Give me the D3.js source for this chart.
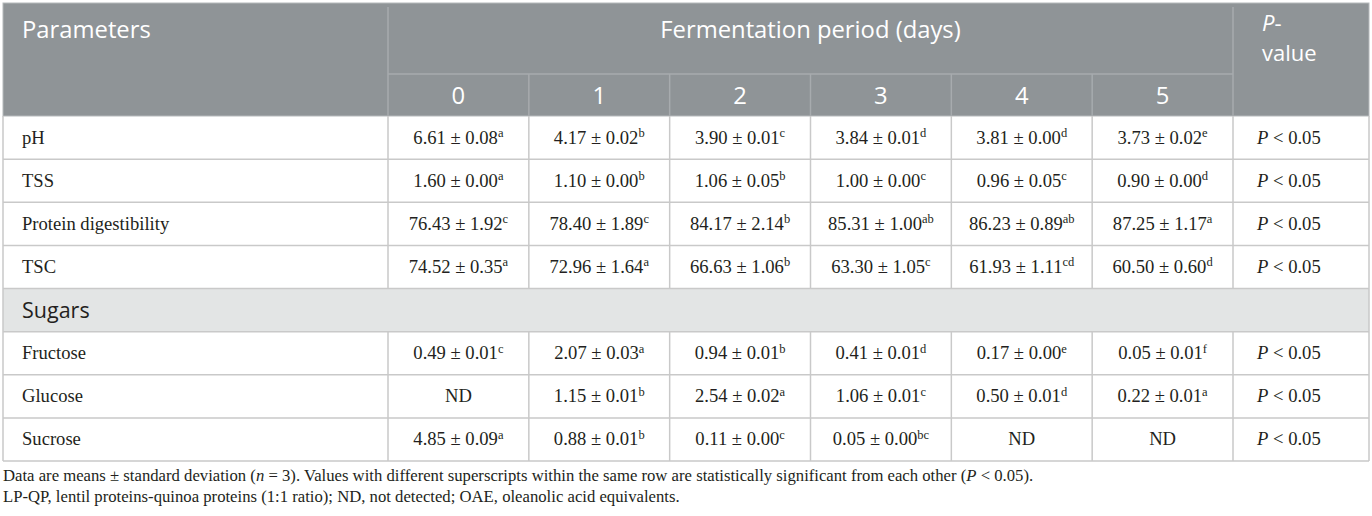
<!DOCTYPE html>
<html>
<head>
<meta charset="utf-8">
<script src="https://cdn.jsdelivr.net/npm/d3@7"></script>
<style>
  body { margin: 0; background: #fff; }
  svg { display: block; }
  .hdr { font-family: "Open Sans", sans-serif; fill: #fff; }
  .cell { font-family: "Liberation Serif", serif; fill: #231f20; font-size: 18.6px; }
  .note { font-family: "Liberation Serif", serif; fill: #231f20; font-size: 16.7px; }
</style>
</head>
<body>
<svg id="viz"></svg>
<script>
// ----------------------------------------------------------------------------------------------------------------
// DATA

var days = ["0", "1", "2", "3", "4", "5"];

var params = ["pH", "TSS", "Protein digestibility", "TSC"];
var sugars = ["Fructose", "Glucose", "Sucrose"];

// means, standard deviations and letters per row (null = ND)
var means = {
  "pH":                    [6.61, 4.17, 3.90, 3.84, 3.81, 3.73],
  "TSS":                   [1.60, 1.10, 1.06, 1.00, 0.96, 0.90],
  "Protein digestibility": [76.43, 78.40, 84.17, 85.31, 86.23, 87.25],
  "TSC":                   [74.52, 72.96, 66.63, 63.30, 61.93, 60.50],
  "Fructose":              [0.49, 2.07, 0.94, 0.41, 0.17, 0.05],
  "Glucose":               [null, 1.15, 2.54, 1.06, 0.50, 0.22],
  "Sucrose":               [4.85, 0.88, 0.11, 0.05, null, null]
};

var sds = {
  "pH":                    [0.08, 0.02, 0.01, 0.01, 0.00, 0.02],
  "TSS":                   [0.00, 0.00, 0.05, 0.00, 0.05, 0.00],
  "Protein digestibility": [1.92, 1.89, 2.14, 1.00, 0.89, 1.17],
  "TSC":                   [0.35, 1.64, 1.06, 1.05, 1.11, 0.60],
  "Fructose":              [0.01, 0.03, 0.01, 0.01, 0.00, 0.01],
  "Glucose":               [null, 0.01, 0.02, 0.01, 0.01, 0.01],
  "Sucrose":               [0.09, 0.01, 0.00, 0.00, null, null]
};

var letters = {
  "pH":                    ["a", "b", "c", "d", "d", "e"],
  "TSS":                   ["a", "b", "b", "c", "c", "d"],
  "Protein digestibility": ["c", "c", "b", "ab", "ab", "a"],
  "TSC":                   ["a", "a", "b", "c", "cd", "d"],
  "Fructose":              ["c", "a", "b", "d", "e", "f"],
  "Glucose":               [null, "b", "a", "c", "d", "a"],
  "Sucrose":               ["a", "b", "c", "bc", null, null]
};

var pValue = "0.05";

// ----------------------------------------------------------------------------------------------------------------
// INITIAL SETUP

var w = 1372;
var h = 516;
var viz = d3.select("#viz").attr("width", w).attr("height", h);

var tLeft = 3, tRight = 1369, tTop = 3;
var colLab = 388, colP = 1233;
var headMid = 74, headBottom = 116, tableBottom = 461;

var hdrFill = "#8f9497";
var hdrLine = "#a7abae";
var gridLine = "#c9c9c9";
var groupFill = "#e3e5e5";

var rowKeys = params.concat(["Sugars"], sugars);

var x = d3.scaleBand().domain(days).range([colLab, colP]);
var y = d3.scaleBand().domain(rowKeys).range([headBottom, tableBottom]);

// ----------------------------------------------------------------------------------------------------------------
// HEADER

viz.append("rect")
  .attr("x", tLeft).attr("y", tTop)
  .attr("width", tRight - tLeft).attr("height", headBottom - tTop)
  .attr("fill", hdrFill)
  .attr("stroke", "#b5b9bb").attr("stroke-width", 1);

// header lines
viz.append("line")
  .attr("x1", colLab).attr("x2", colP).attr("y1", headMid).attr("y2", headMid)
  .attr("stroke", hdrLine).attr("stroke-width", 1.5);

viz.selectAll("line.hv")
  .data([colLab, colP])
  .enter().append("line")
  .attr("class", "hv")
  .attr("x1", function(d) { return d; }).attr("x2", function(d) { return d; })
  .attr("y1", tTop + 4).attr("y2", headBottom)
  .attr("stroke", hdrLine).attr("stroke-width", 1.5);

viz.selectAll("line.hd")
  .data(days.slice(1))
  .enter().append("line")
  .attr("class", "hd")
  .attr("x1", function(d) { return x(d); }).attr("x2", function(d) { return x(d); })
  .attr("y1", headMid).attr("y2", headBottom)
  .attr("stroke", hdrLine).attr("stroke-width", 1.5);

viz.append("text").attr("class", "hdr")
  .attr("x", 22).attr("y", 38)
  .attr("font-size", 23.8)
  .text("Parameters");

viz.append("text").attr("class", "hdr")
  .attr("x", (colLab + colP) / 2).attr("y", 38)
  .attr("text-anchor", "middle")
  .attr("font-size", 23.8)
  .text("Fermentation period (days)");

// P-value header, wrapped on two lines
var pv1 = viz.append("text").attr("class", "hdr").attr("font-size", 22)
  .attr("x", 1262).attr("y", 31);
pv1.append("tspan").attr("font-style", "italic").text("P");
pv1.append("tspan").text("-");

viz.append("text").attr("class", "hdr").attr("font-size", 22)
  .attr("x", 1262).attr("y", 61)
  .text("value");

viz.selectAll("text.day")
  .data(days)
  .enter().append("text")
  .attr("class", "hdr day")
  .attr("x", function(d) { return x(d) + x.bandwidth() / 2; })
  .attr("y", 104)
  .attr("text-anchor", "middle")
  .attr("font-size", 23.8)
  .text(function(d) { return d; });

// ----------------------------------------------------------------------------------------------------------------
// BODY

// group band
viz.append("rect")
  .attr("x", tLeft).attr("y", y("Sugars"))
  .attr("width", tRight - tLeft).attr("height", y.bandwidth())
  .attr("fill", groupFill);

viz.append("text")
  .attr("x", 22).attr("y", y("Sugars") + y.bandwidth() / 2 + 8)
  .style("font-family", "'Open Sans', sans-serif")
  .attr("font-size", 21.5)
  .attr("fill", "#231f20")
  .text("Sugars");

// horizontal grid lines
viz.selectAll("line.hr")
  .data(rowKeys)
  .enter().append("line")
  .attr("class", "hr")
  .attr("x1", tLeft).attr("x2", tRight)
  .attr("y1", function(d) { return y(d) + y.bandwidth(); })
  .attr("y2", function(d) { return y(d) + y.bandwidth(); })
  .attr("stroke", gridLine).attr("stroke-width", 1.5);

// vertical grid lines (skip the group band)
var dataRows = params.concat(sugars);
var vCols = [colLab].concat(days.slice(1).map(function(d) { return x(d); }), [colP]);

dataRows.forEach(function(r) {
  viz.selectAll(null)
    .data(vCols)
    .enter().append("line")
    .attr("x1", function(d) { return d; }).attr("x2", function(d) { return d; })
    .attr("y1", y(r)).attr("y2", y(r) + y.bandwidth())
    .attr("stroke", gridLine).attr("stroke-width", 1.5);
});

// outer borders of body
viz.selectAll("line.ob")
  .data([tLeft, tRight])
  .enter().append("line")
  .attr("class", "ob")
  .attr("x1", function(d) { return d; }).attr("x2", function(d) { return d; })
  .attr("y1", headBottom).attr("y2", tableBottom)
  .attr("stroke", gridLine).attr("stroke-width", 1.5);

// row labels
viz.selectAll("text.lab")
  .data(dataRows)
  .enter().append("text")
  .attr("class", "cell lab")
  .attr("x", 22)
  .attr("y", function(d) { return y(d) + y.bandwidth() / 2 + 6; })
  .text(function(d) { return d; });

// value cells
dataRows.forEach(function(r) {
  var cells = viz.selectAll(null)
    .data(days)
    .enter().append("text")
    .attr("class", "cell")
    .attr("x", function(d) { return x(d) + x.bandwidth() / 2; })
    .attr("y", y(r) + y.bandwidth() / 2 + 6)
    .attr("text-anchor", "middle");

  cells.each(function(d, i) {
    var t = d3.select(this);
    var m = means[r][i];
    if (m === null) {
      t.text("ND");
      return;
    }
    t.append("tspan").text(m.toFixed(2) + " \u00b1 " + sds[r][i].toFixed(2));
    t.append("tspan")
      .attr("font-size", 12.5)
      .attr("dy", -6.5)
      .text(letters[r][i]);
  });

  var p = viz.append("text")
    .attr("class", "cell")
    .attr("x", 1257)
    .attr("y", y(r) + y.bandwidth() / 2 + 6);
  p.append("tspan").attr("font-style", "italic").text("P");
  p.append("tspan").text(" < " + pValue);
});

// ----------------------------------------------------------------------------------------------------------------
// FOOTNOTES

var n1 = viz.append("text").attr("class", "note").attr("x", tLeft).attr("y", 481);
n1.append("tspan").text("Data are means \u00b1 standard deviation (");
n1.append("tspan").attr("font-style", "italic").text("n");
n1.append("tspan").text(" = 3). Values with different superscripts within the same row are statistically significant from each other (");
n1.append("tspan").attr("font-style", "italic").text("P");
n1.append("tspan").text(" < 0.05).");

viz.append("text").attr("class", "note").attr("x", tLeft).attr("y", 502)
  .text("LP-QP, lentil proteins-quinoa proteins (1:1 ratio); ND, not detected; OAE, oleanolic acid equivalents.");
</script>
</body>
</html>
